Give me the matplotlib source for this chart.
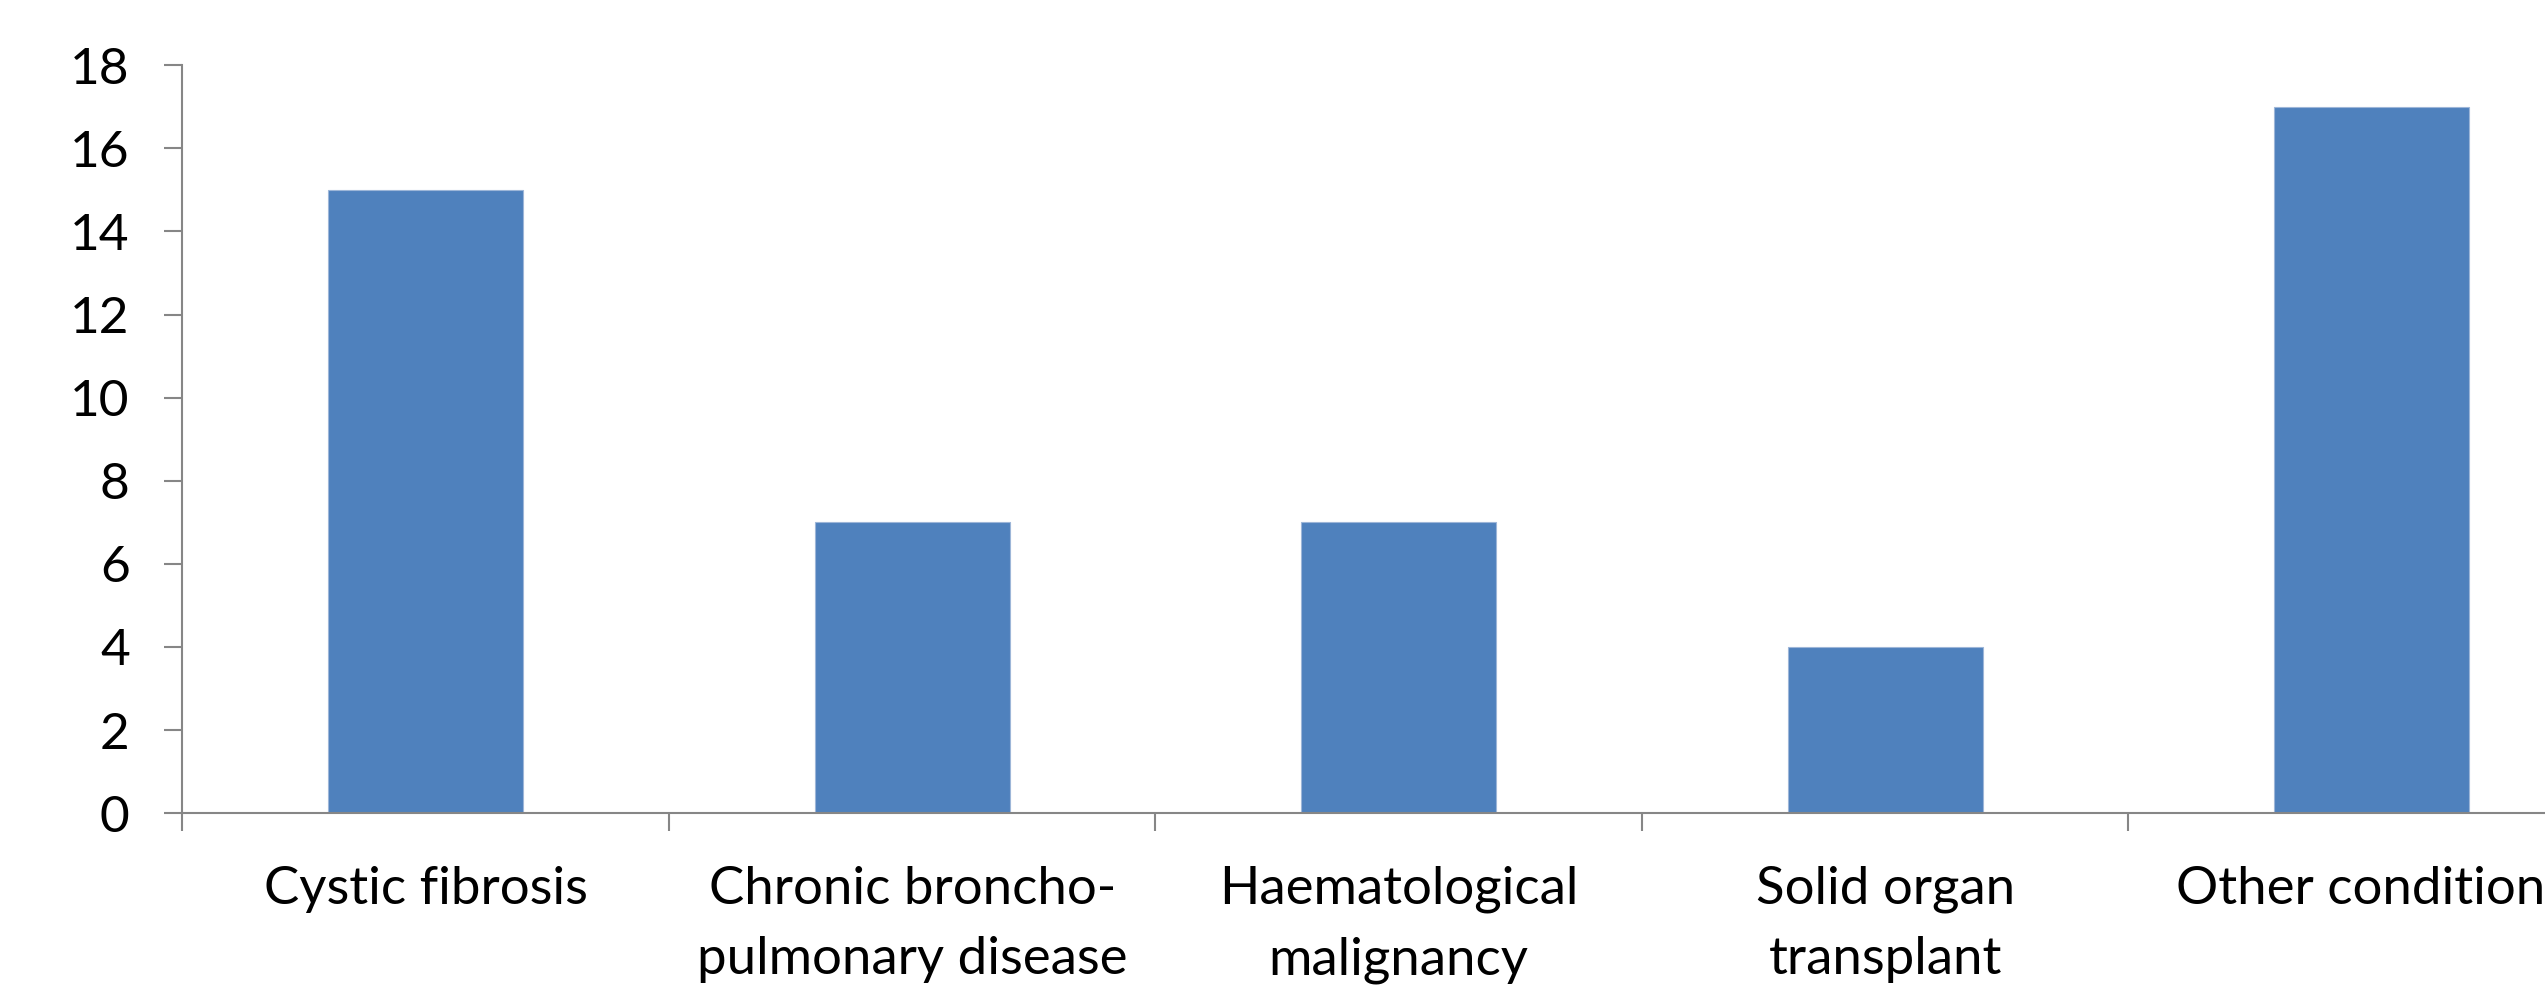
import matplotlib
matplotlib.use("Agg")
import matplotlib.pyplot as plt
import numpy as np

categories = ["Cystic fibrosis", "Chronic broncho-\npulmonary disease", "Haematological\nmalignancy",
              "Solid organ\ntransplant", "Other conditions"]
values = [15, 7, 7, 4, 17]
yticks = [0, 2, 4, 6, 8, 10, 12, 14, 16, 18]

plt.rcParams['font.family'] = ['Lato', 'DejaVu Sans']

fig = plt.figure(figsize=(25.45, 9.88), dpi=100)
ax = fig.add_axes([0.0717, 0.177, 0.9558, 0.757])

x = np.arange(len(categories))
ax.bar(x, values, width=0.4, color='#4F81BD', edgecolor='#9DB6D8', linewidth=0.8, zorder=2)

ax.set_xlim(-0.5, len(categories) - 0.5)
ax.set_ylim(0, 18)
ax.set_yticks(yticks)
ax.set_yticklabels([str(v) for v in yticks])
ax.set_xticks(x)
ax.set_xticklabels(categories)
ax.set_xticks(np.arange(len(categories) + 1) - 0.5, minor=True)

for s in ['top', 'right']:
    ax.spines[s].set_visible(False)
for s in ['left', 'bottom']:
    ax.spines[s].set_color('#868686')
    ax.spines[s].set_linewidth(1.5)

ax.tick_params(axis='y', which='major', length=13, width=1.5, color='#868686', labelsize=37, pad=25)
ax.tick_params(axis='x', which='major', length=0, labelsize=38, pad=38)
ax.tick_params(axis='x', which='minor', length=13, width=1.5, color='#868686')
for t in ax.get_xticklabels():
    t.set_linespacing(1.6)
    t.set_verticalalignment('top')

fig.savefig("out.png", dpi=100, facecolor='white')
